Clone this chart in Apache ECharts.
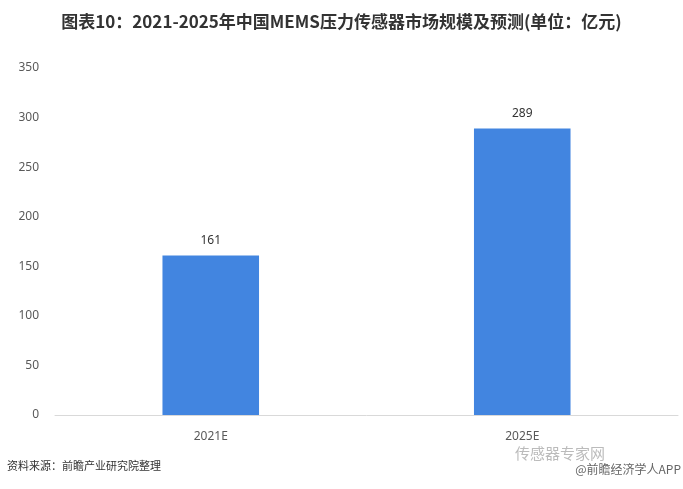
<!DOCTYPE html>
<html><head><meta charset="utf-8">
<script src="https://cdn.jsdelivr.net/npm/echarts@6/dist/echarts.min.js"></script>
<style>html,body{margin:0;padding:0;background:#fff}#c{width:683px;height:489px}</style>
</head><body><div id="c"></div>
<script>
const categories = ['2021E', '2025E'];
const values = [161, 289];
const yTicks = [0, 50, 100, 150, 200, 250, 300, 350];
const titleText = '图表10：2021-2025年中国MEMS压力传感器市场规模及预测(单位：亿元)';
const sourceText = '资料来源：前瞻产业研究院整理';

const chart = echarts.init(document.getElementById('c'));
chart.setOption({
  backgroundColor: '#fff',
  animation: false,
  title: {
    text: titleText, left: 'center', top: 8,
    textStyle: {fontSize: 17, fontWeight: 'bold', color: '#333', fontFamily: 'Noto Sans CJK SC'}
  },
  graphic: [
    {type: 'text', left: 7, top: 460, style: {text: sourceText, fontSize: 11, fill: '#333', fontFamily: 'Noto Sans CJK SC'}},
    {type: 'text', right: 78, top: 446, style: {text: '传感器专家网', fontSize: 15, fill: '#bbb', fontFamily: 'Noto Sans CJK SC'}},
    {type: 'text', right: 2, top: 463, style: {text: '@前瞻经济学人APP', fontSize: 12, fill: '#666', fontFamily: 'Noto Sans CJK SC'}}
  ],
  grid: {left: 55, right: 5, top: 68, bottom: 74, containLabel: false},
  xAxis: {
    type: 'category', data: categories,
    axisLine: {lineStyle: {color: '#d9d9d9'}},
    axisTick: {show: false},
    axisLabel: {color: '#595959', fontSize: 12, margin: 16, fontFamily: 'Noto Sans'}
  },
  yAxis: {
    type: 'value', min: yTicks[0], max: yTicks[yTicks.length - 1], interval: 50,
    axisLine: {show: false}, axisTick: {show: false}, splitLine: {show: false},
    axisLabel: {color: '#595959', fontSize: 12, margin: 16, fontFamily: 'Noto Sans'}
  },
  series: [{
    type: 'bar', data: values, barWidth: '31%',
    itemStyle: {color: '#4285e0'},
    label: {show: true, position: 'top', distance: 9, color: '#333', fontSize: 12, fontFamily: 'Noto Sans'}
  }]
});
</script></body></html>
